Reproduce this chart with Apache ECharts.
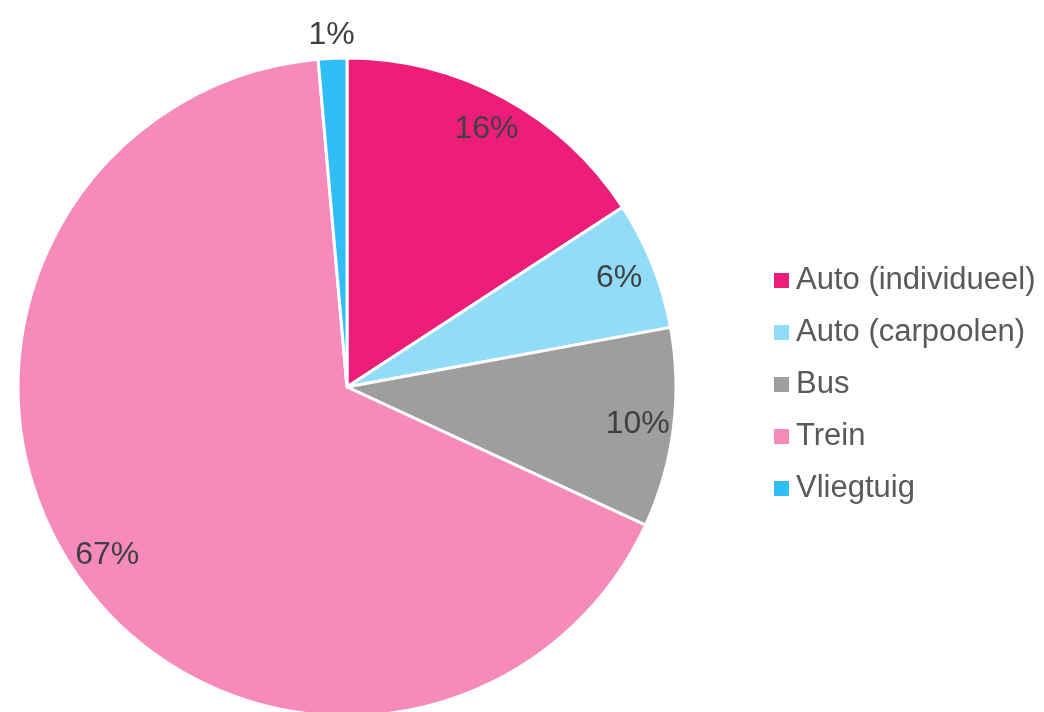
<!DOCTYPE html>
<html>
<head>
<meta charset="utf-8">
<script src="https://cdn.jsdelivr.net/npm/echarts@6/dist/echarts.min.js"></script>
<style>
  html, body { margin: 0; padding: 0; background: #fff; }
  #chart { width: 1044px; height: 712px; }
</style>
</head>
<body>
<div id="chart"></div>
<script>
// categorieën en aandelen (in %)
const categories = ['Auto (individueel)', 'Auto (carpoolen)', 'Bus', 'Trein', 'Vliegtuig'];
const shares = [15.8, 6.3, 9.8, 66.7, 1.4];
const colors = ['#ED1E79', '#91DCF9', '#9D9E9D', '#F68BBB', '#2FBEF6'];
// welke labels buiten de taart staan
const outsideLabel = [false, false, false, false, true];

var myChart = echarts.init(document.getElementById('chart'));

const pieData = categories.map((name, i) => ({
    name: name,
    value: shares[i],
    itemStyle: { color: colors[i] }
}));

// transparante hulplagen, alleen voor de plaats van de labels
function labelLayer(radius, showOutside) {
    return {
        type: 'pie',
        silent: true,
        center: [347, 387],
        radius: radius,
        startAngle: 90,
        clockwise: true,
        legendHoverLink: false,
        emphasis: { disabled: true },
        itemStyle: { color: 'transparent', borderWidth: 0 },
        labelLine: { show: false },
        data: categories.map((name, i) => ({
            name: name,
            value: shares[i],
            label: { show: outsideLabel[i] === showOutside }
        })),
        label: {
            position: 'inside',
            color: '#404040',
            fontSize: 32,
            fontFamily: 'Liberation Sans, Arial, sans-serif',
            formatter: (p) => Math.round(p.percent) + '%'
        }
    };
}

const option = {
    backgroundColor: '#fff',
    animation: false,
    legend: {
        orient: 'vertical',
        left: 772,
        top: 265,
        padding: 0,
        itemWidth: 17,
        itemHeight: 17,
        itemGap: 21,
        icon: 'rect',
        data: categories,
        textStyle: {
            color: '#595959',
            fontSize: 31,
            lineHeight: 31,
            padding: [0, 0, 0, 1],
            fontFamily: 'Liberation Sans, Arial, sans-serif'
        }
    },
    series: [
        {
            type: 'pie',
            center: [347, 387],
            radius: 329,
            startAngle: 90,
            clockwise: true,
            emphasis: { disabled: true },
            itemStyle: { borderColor: '#fff', borderWidth: 3 },
            label: { show: false },
            labelLine: { show: false },
            data: pieData
        },
        labelLayer([250, 330], false),
        labelLayer([330, 368], true)
    ]
};

myChart.setOption(option);
</script>
</body>
</html>
